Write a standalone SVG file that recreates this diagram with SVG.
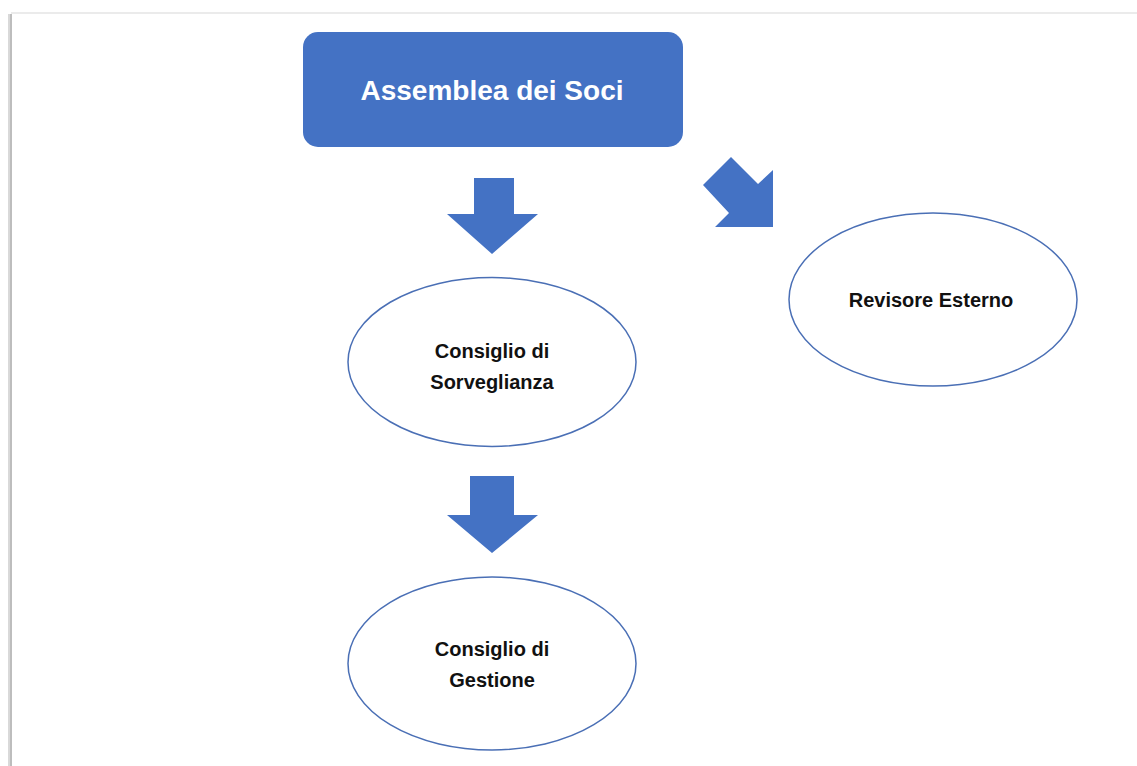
<svg xmlns="http://www.w3.org/2000/svg" width="1137" height="766" viewBox="0 0 1137 766">
<style>
.top{fill:none;stroke:#ebebeb;stroke-width:2}
.left1{fill:none;stroke:#d9d9d9;stroke-width:2}
.left2{fill:none;stroke:#bdbdbd;stroke-width:2}
.box{fill:#4472C4}
.oval{fill:#ffffff;stroke:#4A6FB5;stroke-width:1.5}
.arrow{fill:#4472C4}
.t{font-family:"Liberation Sans",Arial,sans-serif;font-weight:bold;text-anchor:middle}
.tw{fill:#ffffff;font-size:28px}
.tb{fill:#111111;font-size:20px}
</style>
<rect width="1137" height="766" fill="#ffffff"/>
<path class="top" d="M11 13 H1140"/>
<path class="left1" d="M9 14 V770"/>
<path class="left2" d="M11 14 V770"/>
<g id="connectors">
<polygon class="arrow" points="474,178 514,178 514,214 538,214 492,254 447,214 474,214"/>
<polygon class="arrow" points="731,157 758,184 773,170 773,227 715,227 729,213 703,185"/>
<polygon class="arrow" points="470,476 514,476 514,515 538,515 492,553 447,515 470,515"/>
</g>
<g id="assemblea">
<rect class="box" x="303" y="32" width="380" height="115" rx="15"/>
<text class="t tw" x="492" y="100">Assemblea dei Soci</text>
</g>
<g id="revisore">
<ellipse class="oval" cx="933" cy="299.5" rx="144" ry="86.5"/>
<text class="t tb" x="931" y="307">Revisore Esterno</text>
</g>
<g id="sorveglianza">
<ellipse class="oval" cx="492" cy="362" rx="144" ry="84.5"/>
<text class="t tb" x="492" y="358">Consiglio di</text>
<text class="t tb" x="492" y="389">Sorveglianza</text>
</g>
<g id="gestione">
<ellipse class="oval" cx="492" cy="663.5" rx="144" ry="86.5"/>
<text class="t tb" x="492" y="656">Consiglio di</text>
<text class="t tb" x="492" y="687">Gestione</text>
</g>
</svg>
